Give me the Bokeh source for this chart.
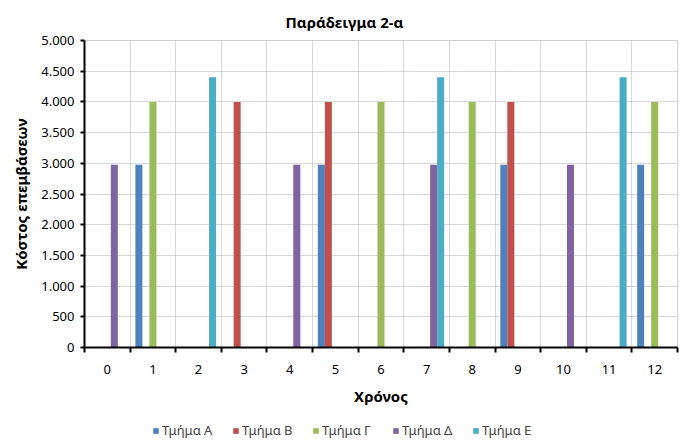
from bokeh.plotting import figure
from bokeh.layouts import column
from bokeh.models import (ColumnDataSource, FixedTicker, Range1d, Legend, LegendItem)
from bokeh.transform import dodge
from bokeh.embed import file_html
from bokeh.resources import INLINE

years = list(range(13))
series_names = ["Τμήμα Α", "Τμήμα Β", "Τμήμα Γ", "Τμήμα Δ", "Τμήμα Ε"]
colors = ["#4F81BD", "#C0504D", "#9BBB59", "#8064A2", "#4BACC6"]

tmima_a = [0, 2975, 0, 0, 0, 2975, 0, 0, 0, 2975, 0, 0, 2975]
tmima_b = [0, 0, 0, 4000, 0, 4000, 0, 0, 0, 4000, 0, 0, 0]
tmima_g = [0, 4000, 0, 0, 0, 0, 4000, 0, 4000, 0, 0, 0, 4000]
tmima_d = [2975, 0, 0, 0, 2975, 0, 0, 2975, 0, 0, 2975, 0, 0]
tmima_e = [0, 0, 4400, 0, 0, 0, 0, 4400, 0, 0, 0, 4400, 0]

y_ticks = [0, 500, 1000, 1500, 2000, 2500, 3000, 3500, 4000, 4500, 5000]
y_tick_labels = ["0", "500", "1.000", "1.500", "2.000", "2.500", "3.000",
                 "3.500", "4.000", "4.500", "5.000"]

title_text = "Παράδειγμα 2-α"
x_title = "Χρόνος"
y_title = "Κόστος επεμβάσεων"

FONT = "Noto Sans"

source = ColumnDataSource(dict(year=years, a=tmima_a, b=tmima_b, g=tmima_g,
                               d=tmima_d, e=tmima_e))
cols = ["a", "b", "g", "d", "e"]

p = figure(width=685, height=416, output_backend="svg", toolbar_location=None,
           x_range=Range1d(-0.5, 12.5), y_range=Range1d(0, 5000),
           min_border_left=84, min_border_right=8, min_border_top=40,
           min_border_bottom=69)

p.title.text = title_text
p.title.align = "left"
p.title.offset = 201
p.title.vertical_align = "bottom"
p.title.text_font = FONT
p.title.text_font_size = "15px"
p.title.text_font_style = "bold"
p.title.text_color = "black"
p.title.standoff = 17

bar_w = 1 / 6.5
for i, (c, col) in enumerate(zip(cols, colors)):
    p.vbar(x=dodge("year", (i - 2) * bar_w), top=c, width=bar_w,
           source=source, fill_color=col, line_color=None)

boundaries = [y - 0.5 for y in years] + [years[-1] + 0.5]
p.xaxis.ticker = FixedTicker(ticks=years, minor_ticks=boundaries)
p.xaxis.major_tick_out = 0
p.xaxis.major_tick_in = 0
p.xaxis.minor_tick_out = 5
p.xaxis.minor_tick_in = 0
p.xaxis.minor_tick_line_width = 2
p.xaxis.minor_tick_line_color = "black"
p.xaxis.axis_line_width = 2
p.xaxis.axis_line_color = "black"
p.xaxis.major_label_standoff = 12
p.xaxis.axis_label = x_title
p.xaxis.axis_label_standoff = 9

p.yaxis.ticker = FixedTicker(ticks=y_ticks)
p.yaxis.major_label_overrides = {t: l for t, l in zip(y_ticks, y_tick_labels)}
p.yaxis.minor_tick_line_color = None
p.yaxis.major_tick_out = 4
p.yaxis.major_tick_in = 0
p.yaxis.major_tick_line_width = 2
p.yaxis.axis_line_width = 2
p.yaxis.axis_line_color = "black"
p.yaxis.major_label_standoff = 6
p.yaxis.axis_label = y_title
p.yaxis.axis_label_standoff = 7

for ax in (p.xaxis[0], p.yaxis[0]):
    ax.major_label_text_font = FONT
    ax.major_label_text_font_size = "13px"
    ax.major_label_text_color = "black"
    ax.axis_label_text_font = FONT
    ax.axis_label_text_font_size = "15px"
    ax.axis_label_text_font_style = "bold"
    ax.axis_label_text_color = "black"

p.xgrid.grid_line_color = None
p.xgrid.minor_grid_line_color = "#b0b0b0"
p.xgrid.minor_grid_line_dash = "1 1"
p.ygrid.grid_line_color = "#b0b0b0"
p.ygrid.grid_line_dash = "1 1"
p.outline_line_color = "#d0d0d0"
p.background_fill_color = "white"
p.border_fill_color = "white"

# Legend strip below the chart
lf = figure(width=685, height=30, output_backend="svg", toolbar_location=None,
            x_range=Range1d(-0.5, 12.5), y_range=Range1d(0, 5000),
            min_border=0)
lf.axis.visible = False
lf.grid.visible = False
lf.outline_line_color = None
lf.border_fill_color = "white"
lf.background_fill_color = "white"
legend_renderers = []
for i, (c, col) in enumerate(zip(cols, colors)):
    r = lf.vbar(x=dodge("year", (i - 2) * bar_w), top=c, width=bar_w,
                source=source, fill_color=col, line_color=None, visible=False)
    legend_renderers.append(r)

legend = Legend(items=[LegendItem(label=n, renderers=[r])
                       for n, r in zip(series_names, legend_renderers)],
                orientation="horizontal", location=(68, 7),
                glyph_width=7, glyph_height=7, label_standoff=3,
                label_width=58, spacing=12, padding=0, margin=0,
                label_text_font=FONT, label_text_font_size="13px",
                label_height=14, border_line_color=None,
                background_fill_alpha=0, inactive_fill_alpha=0)
lf.add_layout(legend, "center")

layout = column(p, lf, spacing=0)
open("out.html", "w").write(file_html(layout, INLINE))
